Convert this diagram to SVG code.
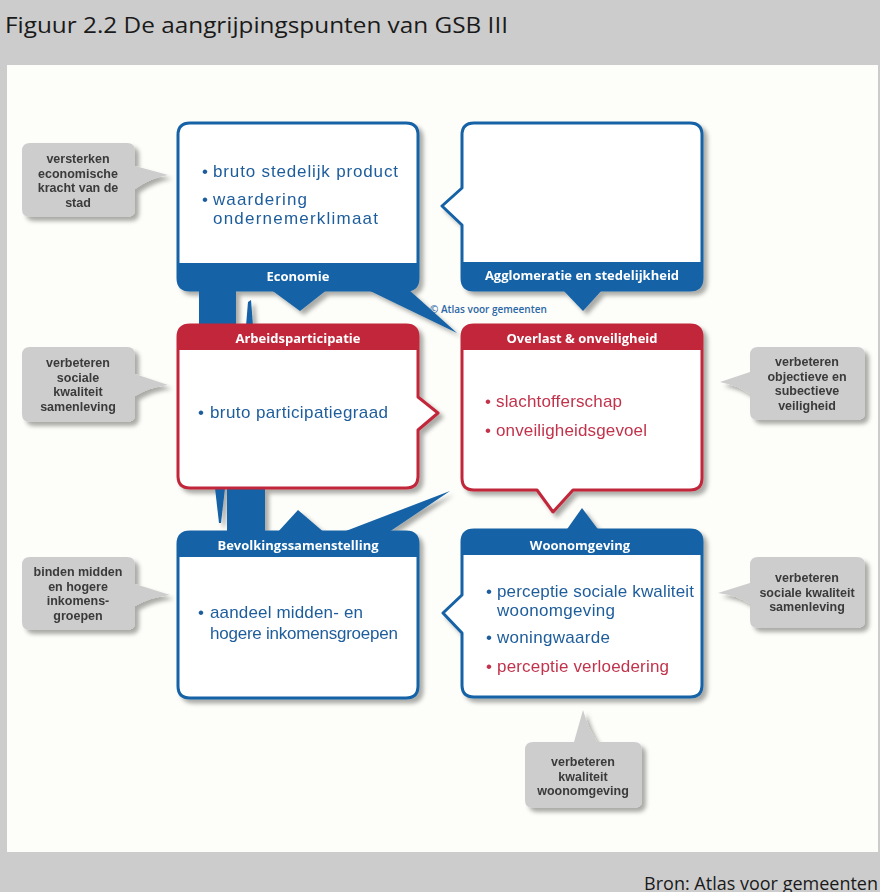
<svg xmlns="http://www.w3.org/2000/svg" width="880" height="892" viewBox="0 0 880 892">
<defs>
<filter id="sh" x="-5%" y="-5%" width="115%" height="115%">
<feGaussianBlur in="SourceAlpha" stdDeviation="2"/>
<feOffset dx="4" dy="4" result="o"/>
<feFlood flood-color="#000" flood-opacity="0.33"/>
<feComposite in2="o" operator="in" result="s"/>
<feMerge><feMergeNode in="s"/><feMergeNode in="SourceGraphic"/></feMerge>
</filter>
<style>
text{font-family:"Open Sans","Noto Sans","DejaVu Sans",sans-serif}
.box{fill:#ffffff;stroke-width:3;stroke-linejoin:round}
.bl{stroke:#1462a6}
.rd{stroke:#c1283b}
.bfill{fill:#1462a6}
.rfill{fill:#c1283b}
.hd{fill:#ffffff;font-size:13px;font-weight:700;text-anchor:middle}
text.tb,text.tr{font-family:"Liberation Sans","Arial",sans-serif;font-size:17px}
.tb{fill:#1f5d9c}
.tr{fill:#c2334c}
.call{fill:#cdcdcd}
text.ct{fill:#3a3a3a;font-family:"Liberation Sans","Arial",sans-serif;font-size:12.5px;font-weight:700;text-anchor:middle}
</style>
</defs>
<rect x="0" y="0" width="880" height="892" fill="#cccccc"/>
<rect x="7" y="65" width="871" height="787" fill="#fdfdf9"/>
<text x="5" y="33" font-size="21" fill="#1a1a1a" textLength="503" lengthAdjust="spacingAndGlyphs">Figuur 2.2 De aangrijpingspunten van GSB III</text>
<text x="878" y="890" font-size="18" fill="#1a1a1a" text-anchor="end">Bron: Atlas voor gemeenten</text>

<g filter="url(#sh)">
<g id="connectors" class="bfill">
<polygon points="199,289 236,289 236,400 199,400"/>
<polygon points="227,420 265,420 265,533 227,533"/>
<polygon points="246,326 248,302 251,300 253,326"/>
<polygon points="215,488 225,488 221,523 219,523"/>
<polygon points="366,289 408,289 457,333"/>
<polygon points="338,534 386,534 450,491"/>
</g>

<g id="economie">
<path class="box bl" d="M190,123 H406 Q418,123 418,135 V278 Q418,290 406,290 H190 Q178,290 178,278 V135 Q178,123 190,123 Z"/>
<path class="bfill" d="M178,263 H418 V278 Q418,290 406,290 H190 Q178,290 178,278 Z"/>
<polygon class="bfill" points="270,289 328,289 300,311"/>
<text class="hd" x="298" y="281">Economie</text>
<text class="tb" y="177"><tspan x="202">•</tspan><tspan x="213" textLength="185">bruto stedelijk product</tspan></text>
<text class="tb"><tspan x="202" y="204.5">•</tspan><tspan x="213" y="204.5" textLength="94">waardering</tspan><tspan x="213" y="224" textLength="165">ondernemerklimaat</tspan></text>
</g>

<g id="agglomeratie">
<path class="box bl" d="M474,123 H690 Q702,123 702,135 V278 Q702,290 690,290 H474 Q462,290 462,278 V225 L442,206 L462,188 V135 Q462,123 474,123 Z"/>
<path class="bfill" d="M462,262 H702 V278 Q702,290 690,290 H474 Q462,290 462,278 Z"/>
<polygon class="bfill" points="562,289 603,289 583,311"/>
<text class="hd" x="582" y="280">Agglomeratie en stedelijkheid</text>
</g>

<g id="arbeidsparticipatie">
<path class="box rd" d="M190,325 H406 Q418,325 418,337 V397 L438,413 L418,430 V476 Q418,488 406,488 H190 Q178,488 178,476 V337 Q178,325 190,325 Z"/>
<path class="rfill" d="M178,350 V337 Q178,325 190,325 H406 Q418,325 418,337 V350 Z"/>
<text class="hd" x="298" y="343">Arbeidsparticipatie</text>
<text class="tb" y="418"><tspan x="198">•</tspan><tspan x="210" textLength="178">bruto participatiegraad</tspan></text>
</g>

<g id="overlast">
<path class="box rd" d="M474,325 H690 Q702,325 702,337 V478 Q702,490 690,490 H573 L553,512 L537,490 H474 Q462,490 462,478 V337 Q462,325 474,325 Z"/>
<path class="rfill" d="M462,350 V337 Q462,325 474,325 H690 Q702,325 702,337 V350 Z"/>
<text class="hd" x="582" y="343">Overlast &amp; onveiligheid</text>
<text class="tr" y="407"><tspan x="485">•</tspan><tspan x="496" textLength="126">slachtofferschap</tspan></text>
<text class="tr" y="436"><tspan x="485">•</tspan><tspan x="496" textLength="151">onveiligheidsgevoel</tspan></text>
</g>

<g id="bevolkingssamenstelling">
<path class="box bl" d="M190,532 H406 Q418,532 418,544 V686 Q418,698 406,698 H190 Q178,698 178,686 V544 Q178,532 190,532 Z"/>
<path class="bfill" d="M178,557 V544 Q178,532 190,532 H406 Q418,532 418,544 V557 Z"/>
<polygon class="bfill" points="276,534 326,534 298,510"/>
<text class="hd" x="298" y="550">Bevolkingssamenstelling</text>
<text class="tb"><tspan x="198" y="618">•</tspan><tspan x="210" y="618" textLength="153">aandeel midden- en</tspan><tspan x="210" y="639" textLength="188">hogere inkomensgroepen</tspan></text>
</g>

<g id="woonomgeving">
<path class="box bl" d="M474,530 H690 Q702,530 702,542 V685 Q702,697 690,697 H474 Q462,697 462,685 V633 L443,613 L462,595 V542 Q462,530 474,530 Z"/>
<path class="bfill" d="M462,555 V542 Q462,530 474,530 H690 Q702,530 702,542 V555 Z"/>
<polygon class="bfill" points="565,532 600,532 582,508"/>
<text class="hd" x="580" y="550">Woonomgeving</text>
<text class="tb"><tspan x="486" y="596.5">•</tspan><tspan x="497" y="596.5" textLength="197">perceptie sociale kwaliteit</tspan><tspan x="497" y="616" textLength="118">woonomgeving</tspan></text>
<text class="tb" y="643"><tspan x="486">•</tspan><tspan x="497" textLength="113">woningwaarde</tspan></text>
<text class="tr" y="672"><tspan x="486">•</tspan><tspan x="497" textLength="172">perceptie verloedering</tspan></text>
</g>

<g id="callout-economie">
<path class="call" d="M30,143 H127 Q135,143 135,151 V166 L168,175 Q150,178 135,189 V209 Q135,217 127,217 H30 Q22,217 22,209 V151 Q22,143 30,143 Z"/>
<text class="ct"><tspan x="78" y="163">versterken</tspan><tspan x="78" y="177.5">economische</tspan><tspan x="78" y="192">kracht van de</tspan><tspan x="78" y="206.5">stad</tspan></text>
</g>

<g id="callout-arbeid">
<path class="call" d="M30,347 H127 Q135,347 135,355 V374 L168,385 Q150,387 135,396 V414 Q135,422 127,422 H30 Q22,422 22,414 V355 Q22,347 30,347 Z"/>
<text class="ct"><tspan x="78" y="367">verbeteren</tspan><tspan x="78" y="381.5">sociale</tspan><tspan x="78" y="396">kwaliteit</tspan><tspan x="78" y="410.5">samenleving</tspan></text>
</g>

<g id="callout-bevolking">
<path class="call" d="M30,557 H127 Q135,557 135,565 V584 L170,595 Q151,597 135,606 V622 Q135,630 127,630 H30 Q22,630 22,622 V565 Q22,557 30,557 Z"/>
<text class="ct"><tspan x="78" y="576">binden midden</tspan><tspan x="78" y="590.5">en hogere</tspan><tspan x="78" y="605">inkomens-</tspan><tspan x="78" y="619.5">groepen</tspan></text>
</g>

<g id="callout-overlast">
<path class="call" d="M758,347 H857 Q865,347 865,355 V412 Q865,420 857,420 H758 Q750,420 750,412 V394 Q736,385 720,382 L750,372 V355 Q750,347 758,347 Z"/>
<text class="ct"><tspan x="807" y="366">verbeteren</tspan><tspan x="807" y="380.5">objectieve en</tspan><tspan x="807" y="395">subectieve</tspan><tspan x="807" y="409.5">veiligheid</tspan></text>
</g>

<g id="callout-woon-sociaal">
<path class="call" d="M758,557 H857 Q865,557 865,565 V620 Q865,628 857,628 H758 Q750,628 750,620 V604 Q736,595 718,593 L750,583 V565 Q750,557 758,557 Z"/>
<text class="ct"><tspan x="807" y="582">verbeteren</tspan><tspan x="807" y="596.5">sociale kwaliteit</tspan><tspan x="807" y="611">samenleving</tspan></text>
</g>

<g id="callout-woon-kwaliteit">
<path class="call" d="M533,742 H574 L583,710 Q588,728 597,742 H634 Q642,742 642,750 V800 Q642,808 634,808 H533 Q525,808 525,800 V750 Q525,742 533,742 Z"/>
<text class="ct"><tspan x="583" y="766">verbeteren</tspan><tspan x="583" y="780.5">kwaliteit</tspan><tspan x="583" y="795">woonomgeving</tspan></text>
</g>
</g>

<text x="430" y="313" font-size="10" font-weight="600" fill="#2a67a6">© Atlas voor gemeenten</text>
</svg>
